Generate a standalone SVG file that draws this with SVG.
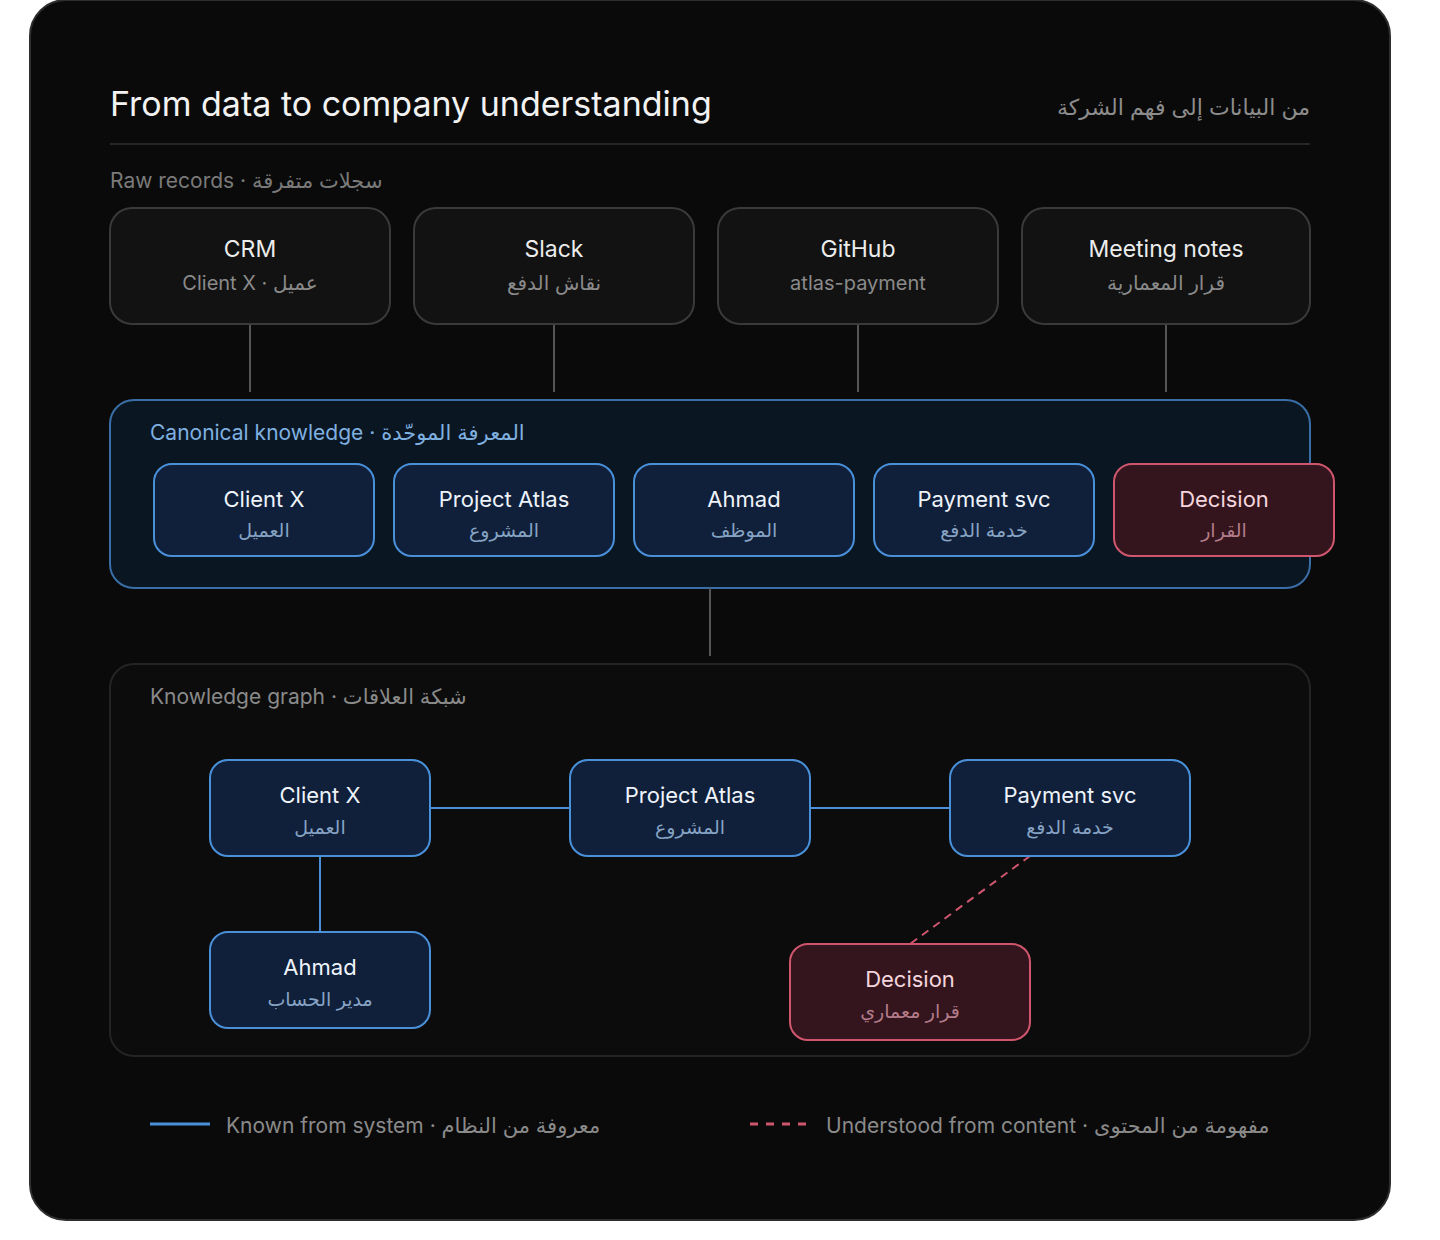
<svg xmlns="http://www.w3.org/2000/svg" width="1440" height="1240" viewBox="0 0 1440 1240">
<defs>
<style>
text{font-family:Inter,"DejaVu Sans","Noto Sans",sans-serif}
.title{font-size:34px;fill:#f2f2f2}
.artitle{font-size:22px;fill:#8c8c8c}
.sec{font-size:21px;fill:#7a7a7a}
.raw rect{fill:#121212;stroke:#3a3a3a;stroke-width:2}
.raw .t{font-size:23px;fill:#ececec}
.raw .s{font-size:20px;fill:#8a8a8a}
.blue rect{fill:#10203a;stroke:#4a90d9;stroke-width:2}
.blue .t{font-size:22px;fill:#eef3fa}
.blue .s{font-size:19px;fill:#86a3c4}
.red rect{fill:#35151d;stroke:#d0566e;stroke-width:2}
.red .t{font-size:22px;fill:#f4d6dd}
.red .s{font-size:19px;fill:#b27c8a}
.grey{stroke:#555;stroke-width:2;fill:none}
.bl{stroke:#4a90d9;stroke-width:2;fill:none}
.dash{stroke:#d0566e;stroke-width:2;fill:none;stroke-dasharray:8 6}
.legbl{stroke:#4a90d9;stroke-width:3;fill:none}
.legdash{stroke:#d0566e;stroke-width:3;fill:none;stroke-dasharray:8 8}
.leg{font-size:21px;fill:#8a8a8a}
</style>
</defs>
<rect x="0" y="0" width="1440" height="1240" fill="#ffffff"/>
<rect x="30" y="0" width="1360" height="1220" rx="36" fill="#0a0a0a" stroke="#2e2e2e" stroke-width="2"/>

<text class="title" x="110" y="116">From data to company understanding</text>
<text class="artitle" x="1310" y="115" text-anchor="end">من البيانات إلى فهم الشركة</text>
<line x1="110" y1="144" x2="1310" y2="144" stroke="#262626" stroke-width="2"/>

<text class="sec" x="110" y="188">Raw records · سجلات متفرقة</text>

<g id="canonical">
<rect x="110" y="400" width="1200" height="188" rx="24" fill="#0a1723" stroke="#3a6ea6" stroke-width="2"/>
<text x="150" y="440" font-size="21" fill="#7fb0e0">Canonical knowledge · المعرفة الموحّدة</text>
</g>
<g id="graph">
<rect x="110" y="664" width="1200" height="392" rx="24" fill="#0c0c0c" stroke="#242424" stroke-width="2"/>
<text x="150" y="704" font-size="21" fill="#8a8a8a">Knowledge graph · شبكة العلاقات</text>
</g>

<g id="connectors">
<line class="grey" x1="250" y1="324" x2="250" y2="392"/>
<line class="grey" x1="554" y1="324" x2="554" y2="392"/>
<line class="grey" x1="858" y1="324" x2="858" y2="392"/>
<line class="grey" x1="1166" y1="324" x2="1166" y2="392"/>
<line class="grey" x1="710" y1="588" x2="710" y2="656"/>
<line class="bl" x1="430" y1="808" x2="570" y2="808"/>
<line class="bl" x1="810" y1="808" x2="950" y2="808"/>
<line class="bl" x1="320" y1="856" x2="320" y2="932"/>
<line class="dash" x1="1030" y1="856" x2="910" y2="944"/>
</g>

<g id="raw-crm" class="raw">
<rect x="110" y="208" width="280" height="116" rx="22"/>
<text class="t" x="250" y="257" text-anchor="middle">CRM</text>
<text class="s" x="250" y="290" text-anchor="middle">Client X · عميل</text>
</g>
<g id="raw-slack" class="raw">
<rect x="414" y="208" width="280" height="116" rx="22"/>
<text class="t" x="554" y="257" text-anchor="middle">Slack</text>
<text class="s" x="554" y="290" text-anchor="middle">نقاش الدفع</text>
</g>
<g id="raw-github" class="raw">
<rect x="718" y="208" width="280" height="116" rx="22"/>
<text class="t" x="858" y="257" text-anchor="middle">GitHub</text>
<text class="s" x="858" y="290" text-anchor="middle">atlas-payment</text>
</g>
<g id="raw-meeting" class="raw">
<rect x="1022" y="208" width="288" height="116" rx="22"/>
<text class="t" x="1166" y="257" text-anchor="middle">Meeting notes</text>
<text class="s" x="1166" y="290" text-anchor="middle">قرار المعمارية</text>
</g>

<g id="can-client" class="blue">
<rect x="154" y="464" width="220" height="92" rx="18"/>
<text class="t" x="264" y="507" text-anchor="middle">Client X</text>
<text class="s" x="264" y="537" text-anchor="middle">العميل</text>
</g>
<g id="can-project" class="blue">
<rect x="394" y="464" width="220" height="92" rx="18"/>
<text class="t" x="504" y="507" text-anchor="middle">Project Atlas</text>
<text class="s" x="504" y="537" text-anchor="middle">المشروع</text>
</g>
<g id="can-ahmad" class="blue">
<rect x="634" y="464" width="220" height="92" rx="18"/>
<text class="t" x="744" y="507" text-anchor="middle">Ahmad</text>
<text class="s" x="744" y="537" text-anchor="middle">الموظف</text>
</g>
<g id="can-payment" class="blue">
<rect x="874" y="464" width="220" height="92" rx="18"/>
<text class="t" x="984" y="507" text-anchor="middle">Payment svc</text>
<text class="s" x="984" y="537" text-anchor="middle">خدمة الدفع</text>
</g>
<g id="can-decision" class="red">
<rect x="1114" y="464" width="220" height="92" rx="18"/>
<text class="t" x="1224" y="507" text-anchor="middle">Decision</text>
<text class="s" x="1224" y="537" text-anchor="middle">القرار</text>
</g>

<g id="g-client" class="blue">
<rect x="210" y="760" width="220" height="96" rx="18"/>
<text class="t" x="320" y="803" text-anchor="middle">Client X</text>
<text class="s" x="320" y="834" text-anchor="middle">العميل</text>
</g>
<g id="g-project" class="blue">
<rect x="570" y="760" width="240" height="96" rx="18"/>
<text class="t" x="690" y="803" text-anchor="middle">Project Atlas</text>
<text class="s" x="690" y="834" text-anchor="middle">المشروع</text>
</g>
<g id="g-payment" class="blue">
<rect x="950" y="760" width="240" height="96" rx="18"/>
<text class="t" x="1070" y="803" text-anchor="middle">Payment svc</text>
<text class="s" x="1070" y="834" text-anchor="middle">خدمة الدفع</text>
</g>
<g id="g-ahmad" class="blue">
<rect x="210" y="932" width="220" height="96" rx="18"/>
<text class="t" x="320" y="975" text-anchor="middle">Ahmad</text>
<text class="s" x="320" y="1006" text-anchor="middle">مدير الحساب</text>
</g>
<g id="g-decision" class="red">
<rect x="790" y="944" width="240" height="96" rx="18"/>
<text class="t" x="910" y="987" text-anchor="middle">Decision</text>
<text class="s" x="910" y="1018" text-anchor="middle">قرار معماري</text>
</g>

<g id="legend">
<line class="legbl" x1="150" y1="1124" x2="210" y2="1124"/>
<text class="leg" x="226" y="1133">Known from system · معروفة من النظام</text>
<line class="legdash" x1="750" y1="1124" x2="810" y2="1124"/>
<text class="leg" x="826" y="1133">Understood from content · مفهومة من المحتوى</text>
</g>
</svg>
